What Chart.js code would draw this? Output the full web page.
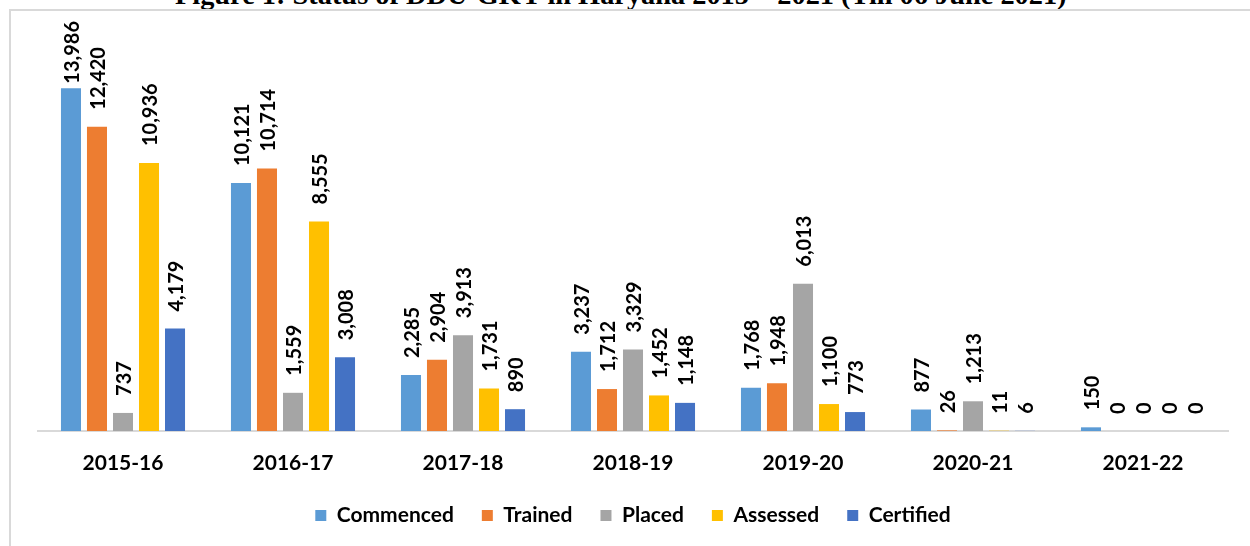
<!DOCTYPE html>
<html>
<head>
<meta charset="utf-8">
<title>Status of DDU-GKY in Haryana</title>
<script src="https://cdn.jsdelivr.net/npm/chart.js@4.4.1/dist/chart.umd.min.js"></script>
<style>
  html, body { margin: 0; padding: 0; background: #fff; overflow: hidden; }
  #wrap { position: relative; width: 1250px; height: 546px; overflow: hidden; }
  #frame { position: absolute; left: 9px; top: 9px; width: 1300px; height: 600px;
           border: 2px solid #d9d9d9; box-sizing: border-box; }
  #title { position: absolute; left: 175px; white-space: nowrap; color: #000;
           font-family: "Liberation Serif", serif; font-weight: bold; line-height: 1; }
  #chart { position: absolute; left: 0; top: 0; }
</style>
</head>
<body>
<div id="wrap">
  <div id="title">Figure 1: Status of DDU-GKY in Haryana 2015 – 2021 (Till 06 June 2021)</div>
  <div id="frame"></div>
  <canvas id="chart" width="1250" height="546"></canvas>
</div>
<script>
/* Figures by year */
const years = ['2015-16', '2016-17', '2017-18', '2018-19', '2019-20', '2020-21', '2021-22'];
const commenced = [13986, 10121, 2285, 3237, 1768, 877, 150];
const trained   = [12420, 10714, 2904, 1712, 1948, 26, 0];
const placed    = [737, 1559, 3913, 3329, 6013, 1213, 0];
const assessed  = [10936, 8555, 1731, 1452, 1100, 11, 0];
const certified = [4179, 3008, 890, 1148, 773, 6, 0];

/* Title sizing - fit to width, baseline just above the frame */
const titleEl = document.getElementById('title');
titleEl.style.fontSize = '26px';
const titleSize = 26 * 892 / titleEl.offsetWidth;
titleEl.style.fontSize = titleSize + 'px';
titleEl.style.top = (5 - 0.8375 * titleSize) + 'px';

/* Rotated value labels above each bar */
const barLabels = {
    id: 'barLabels',
    afterDatasetsDraw(chart) {
        const ctx = chart.ctx;
        ctx.save();
        ctx.font = 'bold 20px Lato';
        ctx.fillStyle = '#000';
        ctx.textAlign = 'left';
        ctx.textBaseline = 'middle';
        chart.data.datasets.forEach((ds, i) => {
            chart.getDatasetMeta(i).data.forEach((bar, j) => {
                const text = ds.data[j].toLocaleString('en-US');
                const w = ctx.measureText(text).width;
                let start = bar.y - 17;
                if (start - w < 21) start = 21 + w;
                ctx.save();
                ctx.translate(bar.x + 2, start);
                ctx.rotate(-Math.PI / 2);
                ctx.fillText(text, 0, 0);
                ctx.restore();
            });
        });
        ctx.restore();
    }
};

Chart.defaults.font.family = 'Lato';
Chart.defaults.color = '#000';

const makeSet = (label, data, color) => ({
    label: label,
    data: data,
    backgroundColor: color,
    borderWidth: 0,
    categoryPercentage: 0.765,
    barPercentage: 0.77
});

new Chart(document.getElementById('chart'), {
    type: 'bar',
    data: {
        labels: years,
        datasets: [
            makeSet('Commenced', commenced, '#5b9bd5'),
            makeSet('Trained', trained, '#ed7d31'),
            makeSet('Placed', placed, '#a5a5a5'),
            makeSet('Assessed', assessed, '#ffc000'),
            makeSet('Certified', certified, '#4472c4')
        ]
    },
    options: {
        responsive: false,
        animation: false,
        layout: { padding: { top: 39, left: 38, right: 22, bottom: 10 } },
        plugins: {
            legend: {
                position: 'bottom',
                labels: {
                    font: { size: 21, weight: 'bold' },
                    boxWidth: 11,
                    boxHeight: 11,
                    padding: 28,
                    color: '#000'
                }
            },
            tooltip: { enabled: false }
        },
        scales: {
            x: {
                grid: { display: false },
                border: { color: '#d9d9d9', width: 2 },
                ticks: { font: { size: 21, weight: 'bold' }, color: '#000', padding: 12 },
                afterFit(scale) { scale.height = 46; }
            },
            y: {
                display: false,
                min: 0,
                max: 16000
            }
        }
    },
    plugins: [barLabels]
});
</script>
</body>
</html>
